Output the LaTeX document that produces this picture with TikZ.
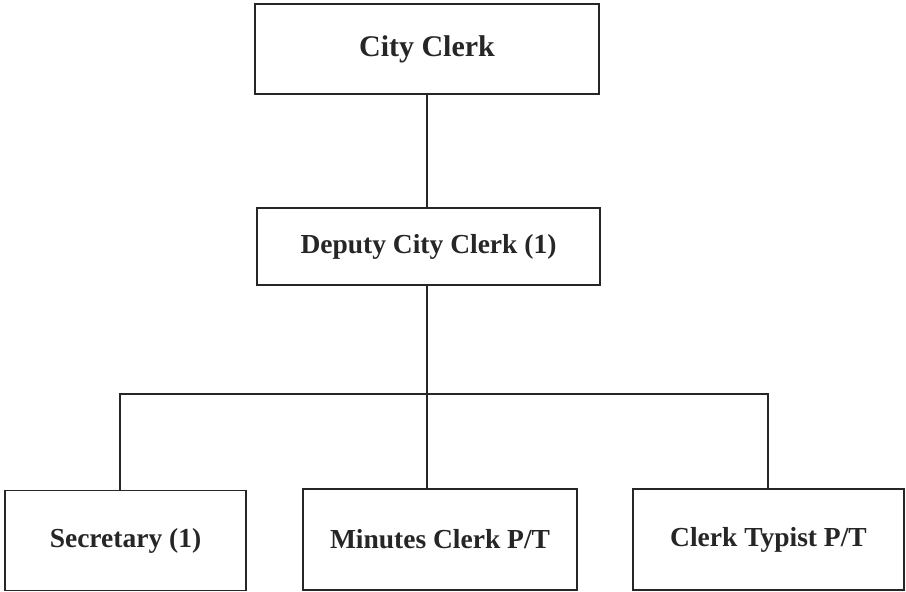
\documentclass[tikz,border=0pt]{standalone}
\usepackage{fontspec}
\setmainfont{Liberation Serif}
\begin{document}
\begin{tikzpicture}[x=1pt,y=-1pt,
  box/.style={draw=black!85,line width=1.8pt,inner sep=0pt,font=\bfseries\fontsize{27.5}{30}\selectfont,text=black!85},
  conn/.style={draw=black!85,line width=1.8pt,line join=miter}]
\useasboundingbox[fill=white] (0,0) rectangle (906,592);
\node[box,minimum width=344pt,minimum height=90pt,font=\bfseries\fontsize{30}{32}\selectfont] (cc) at (427,49) {City Clerk};
\node[box,minimum width=343pt,minimum height=77pt] (dc) at (428.5,246.5) {Deputy City Clerk (1)};
\node[box,minimum width=241pt,minimum height=100pt] (sec) at (125.5,540.5) {Secretary (1)};
\node[box,minimum width=274pt,minimum height=101pt] (min) at (440,539.5) {Minutes Clerk P/T};
\node[box,minimum width=271pt,minimum height=101pt] (typ) at (768.5,539.5) {Clerk Typist P/T};
\coordinate (bus) at (427,394);
\coordinate (bl) at (120,394);
\coordinate (br) at (768,394);
\draw[conn] (cc.south -| bus) -- (dc.north -| bus);
\draw[conn] (dc.south -| bus) -- (bus);
\draw[conn] (bl |- sec.north) -- (bl) -- (br) -- (br |- typ.north);
\draw[conn] (bus) -- (bus |- min.north);
\end{tikzpicture}
\end{document}
